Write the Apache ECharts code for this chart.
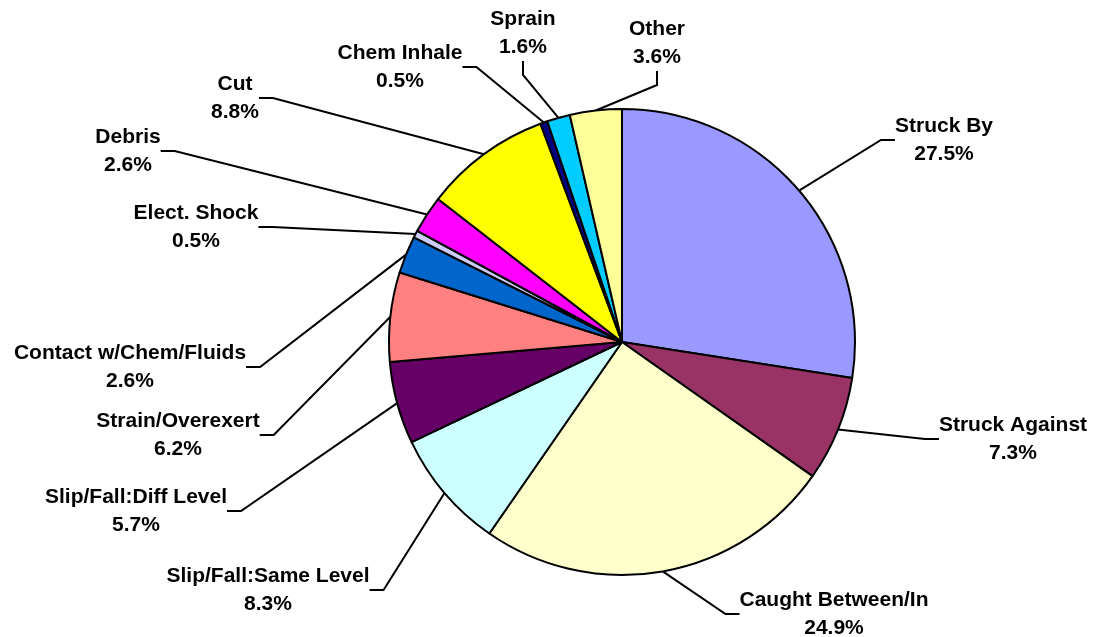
<!DOCTYPE html>
<html>
<head>
<meta charset="utf-8">
<script src="https://cdn.jsdelivr.net/npm/echarts@6/dist/echarts.min.js"></script>
<style>
  html, body { margin: 0; padding: 0; background: #fff; }
  #chart { width: 1093px; height: 637px; }
</style>
</head>
<body>
<div id="chart"></div>
<script>
// injury categories, clockwise from 12 o'clock
const categories = [
  'Struck By', 'Struck Against', 'Caught Between/In', 'Slip/Fall:Same Level',
  'Slip/Fall:Diff Level', 'Strain/Overexert', 'Contact w/Chem/Fluids', 'Elect. Shock',
  'Debris', 'Cut', 'Chem Inhale', 'Sprain', 'Other'
]
const percents = [27.5, 7.3, 24.9, 8.3, 5.7, 6.2, 2.6, 0.5, 2.6, 8.8, 0.5, 1.6, 3.6]
const colors = [
  '#9999FF', '#993366', '#FFFFCC', '#CCFFFF', '#660066', '#FF8080', '#0066CC',
  '#CCCCFF', '#FF00FF', '#FFFF00', '#000080', '#00CCFF', '#FFFF99'
]

// label block centres (px), same order as categories
const labelPos = [
  [944, 140], [1013, 439], [834, 614], [268, 590], [136, 511], [178, 435], [130, 367],
  [196, 227], [128, 151], [235, 98], [400, 67], [523, 33], [657, 43]
]

const chart = echarts.init(document.getElementById('chart'))

chart.setOption({
  animation: false,
  series: [
    {
      type: 'pie',
      center: [622, 342],
      radius: 233,
      startAngle: 90,
      clockwise: true,
      data: categories.map((name, i) => ({
        name,
        value: percents[i],
        itemStyle: { color: colors[i] },
      })),
      itemStyle: { borderColor: '#000', borderWidth: 2 },
      emphasis: { disabled: true },
      label: {
        show: true,
        position: 'outside',
        formatter: (p) => `${p.name}\n${p.value.toFixed(1)}%`,
        fontFamily: 'Liberation Sans, Arial, sans-serif',
        fontWeight: 'bold',
        fontSize: 21,
        lineHeight: 28,
        color: '#000',
        align: 'center',
      },
      labelLine: {
        show: true,
        length: 20,
        length2: 14,
        smooth: false,
        lineStyle: { color: '#000', width: 2 },
      },
      labelLayout: (params) => ({
        x: labelPos[params.dataIndex][0],
        y: labelPos[params.dataIndex][1],
        align: 'center',
        verticalAlign: 'middle',
      }),
    },
  ],
})
</script>
</body>
</html>
